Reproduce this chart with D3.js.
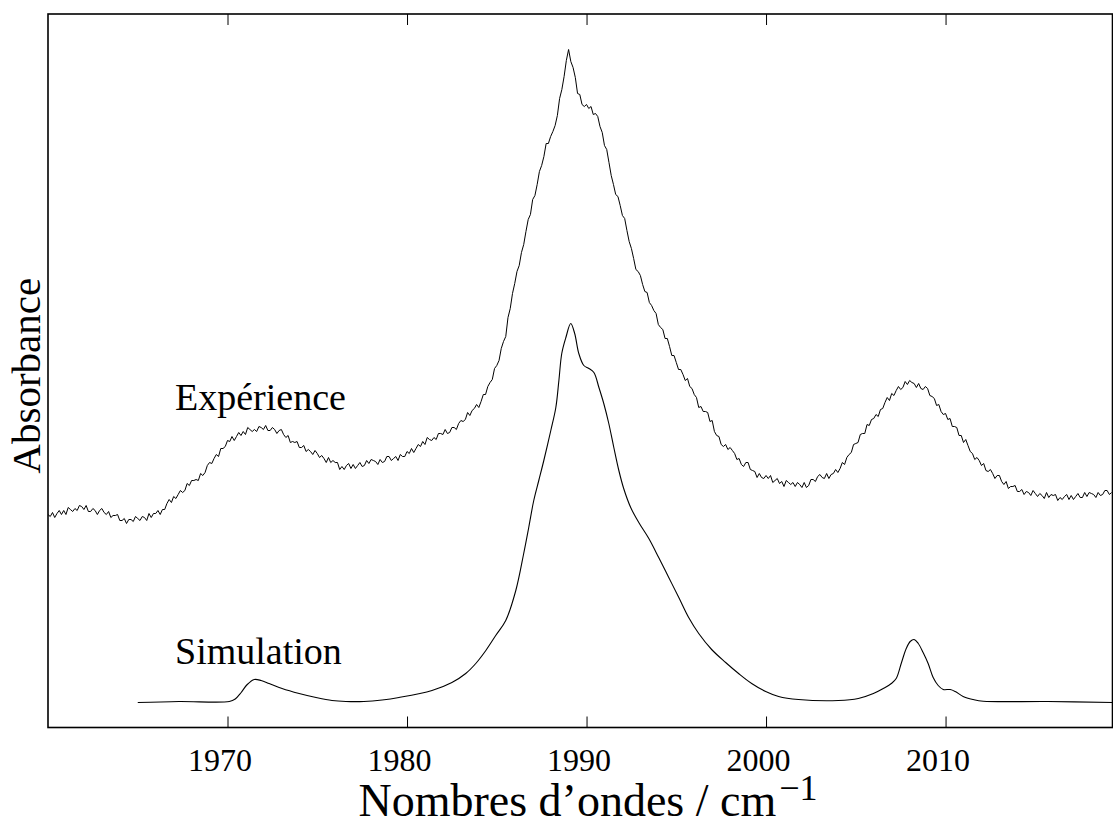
<!DOCTYPE html>
<html lang="fr">
<head>
<meta charset="utf-8">
<title>Spectre IR : expérience et simulation</title>
<script src="https://cdn.jsdelivr.net/npm/d3@7/dist/d3.min.js"></script>
<style>
  html, body { margin: 0; padding: 0; background: #fff; }
  svg { display: block; }
  text { font-family: "Liberation Serif", "Times New Roman", Times, serif; fill: #000; }
</style>
</head>
<body>
<svg id="chart" width="1113" height="825"></svg>
<script>
// Measured spectrum: absorbance (arbitrary units, offset upward) sampled every 0.125 cm-1 from 1960 cm-1
const expStart = 1960;
const expStep = 0.125;
const expAbsorbance = [
  213,211,215,210,214,217,213,217, 213,220,218,216,219,217,222,221,
  218,222,216,216,219,217,213,217, 219,215,213,216,210,212,212,213,
  207,207,209,204,208,208,206,211, 209,207,211,210,207,214,210,214,
  214,217,213,218,218,224,228,225, 231,229,233,237,235,237,244,242,
  247,247,248,247,254,252,255,262, 265,264,269,273,271,279,279,281,
  287,286,291,287,291,295,292,296, 293,300,298,296,298,296,301,300,
  298,302,297,297,300,298,294,297, 298,293,290,292,285,286,285,286,
  280,280,282,276,278,276,273,277, 274,270,272,269,265,270,265,267,
  265,265,258,261,258,262,264,259, 263,259,262,265,261,262,267,264,
  268,267,266,263,268,265,266,271, 271,267,269,271,267,273,271,271,
  276,274,279,275,279,283,281,286, 283,290,288,287,290,288,294,294,
  293,298,294,295,300,300,298,304, 307,306,308,315,312,317,319,323,
  320,326,333,333,341,345,348,359, 362,367,379,386,391,410,419,434,
  444,456,462,475,483,496,508,513, 528,532,543,556,562,571,584,584,
  591,596,602,612,629,638,651,667, 678,666,660,650,634,633,623,621,
  623,619,621,613,614,611,601,595, 582,578,565,552,543,533,531,522,
  512,509,497,486,479,469,458,456, 452,443,436,435,425,422,417,414,
  403,400,398,389,389,381,372,372, 365,358,358,353,347,349,341,339,
  333,330,320,321,316,316,315,306, 307,296,292,291,283,281,283,278,
  280,277,274,268,269,263,261,265, 265,258,257,256,250,254,250,249,
  252,249,252,245,247,249,244,246, 241,247,245,243,245,241,245,243,
  240,245,240,242,248,248,246,251, 253,250,249,254,249,253,254,258,
  255,259,265,263,270,273,275,283, 284,285,293,294,294,303,302,308,
  309,313,311,318,319,325,330,327, 334,332,337,341,338,340,346,343,
  347,345,344,340,344,339,338,341, 339,332,331,329,322,323,316,313,
  314,308,309,301,301,300,292,292, 285,288,282,276,274,268,270,267,
  262,264,257,256,258,254,249,252, 252,246,243,246,239,241,241,242,
  236,236,238,233,236,235,232,237, 234,231,234,232,229,235,230,233,
  232,233,227,230,228,231,233,228, 232,228,231,234,230,230,235,231,
  235,234,233,230,235,232,233,237, 237,233,235
];

// Simulated spectrum: wavenumbers (cm-1) and absorbance (same arbitrary units)
const simWavenumber = [
  1965.0,1967.3,1970.1,1970.43,1970.76,1971.1,1971.49,1971.87,1972.32,1973.04,
  1973.99,1974.93,1975.82,1976.6,1977.6,1978.61,1979.55,1981.39,1982.5,1983.27,
  1983.83,1984.39,1984.94,1985.5,1986.06,1986.5,1986.78,1987.06,1987.34,1987.62,
  1988.01,1988.29,1988.46,1988.62,1988.85,1989.12,1989.34,1989.57,1989.85,1990.13,
  1990.41,1990.69,1990.96,1991.24,1991.52,1991.8,1992.07,1992.46,1992.91,1993.47,
  1994.02,1994.58,1995.14,1995.69,1996.25,1996.97,1997.75,1998.47,1999.2,1999.98,
  2000.7,2001.81,2004.03,2005.14,2005.98,2006.53,2006.98,2007.25,2007.53,2007.81,
  2008.03,2008.25,2008.48,2008.75,2009.03,2009.31,2009.59,2009.87,2010.26,2010.54,
  2010.98,2011.54,2012.1,2015.71,2019.3
];
const simAbsorbance = [
  25,26,26,28.5,35,43,48,47,44,39,
  34,30,27,26,26,27.5,30,37,45,54,
  64,77,92,107,137,174,200,227,247,267,
  297,320,347,374,390,404,394,374,362,359,
  355,340,324,304,280,257,239,220,205,189,
  170,150,130,110,94,78,65,54,44,36,
  31,28,27,29,34,39,44,49,64,79,
  86,88,84,75,64,50,42,38,38,36,
  31,28,26.3,26,25
];

// Axis ticks and labels
const xTicks = [1970, 1980, 1990, 2000, 2010];
const xTitle = "Nombres d\u2019ondes / cm";
const xTitleExponent = "\u22121";
const yTitle = "Absorbance";
const seriesLabels = ["Exp\u00e9rience", "Simulation"];

const svg = d3.select("#chart");
const frame = { left: 48, right: 1112.5, top: 14, bottom: 727.5 };

const x = d3.scaleLinear().domain([1960, 2019.3]).range([frame.left, frame.right]);
const y = d3.scaleLinear().domain([0, 713.5]).range([frame.bottom, frame.top]);

svg.append("defs").append("clipPath").attr("id", "plot-clip")
  .append("rect")
  .attr("x", frame.left).attr("y", frame.top)
  .attr("width", frame.right - frame.left).attr("height", frame.bottom - frame.top);

const expData = expAbsorbance.map((v, i) => ({ w: expStart + i * expStep, v }));
const simData = simWavenumber.map((w, i) => ({ w, v: simAbsorbance[i] }));

const plot = svg.append("g").attr("clip-path", "url(#plot-clip)");

plot.append("path")
  .datum(expData)
  .attr("fill", "none")
  .attr("stroke", "#000")
  .attr("stroke-width", 1)
  .attr("stroke-linejoin", "round")
  .attr("d", d3.line().x(d => x(d.w)).y(d => y(d.v)));

plot.append("path")
  .datum(simData)
  .attr("fill", "none")
  .attr("stroke", "#000")
  .attr("stroke-width", 1.1)
  .attr("d", d3.line().curve(d3.curveCatmullRom.alpha(0.5)).x(d => x(d.w)).y(d => y(d.v)));

// Bottom axis: inward ticks with labels below
const xAxisBottom = svg.append("g")
  .attr("transform", `translate(0,${frame.bottom})`)
  .call(d3.axisBottom(x).tickValues(xTicks).tickSize(-11).tickFormat(d3.format("d")));
xAxisBottom.select(".domain").remove();
xAxisBottom.selectAll(".tick line").attr("stroke", "#000").attr("stroke-width", 1);
xAxisBottom.selectAll(".tick text")
  .attr("x", -8).attr("y", 43.5).attr("dy", 0)
  .style("font-family", "'Liberation Serif', 'Times New Roman', serif")
  .style("font-size", "32px").attr("fill", "#000");

// Top axis: inward ticks only
const xAxisTop = svg.append("g")
  .attr("transform", `translate(0,${frame.top})`)
  .call(d3.axisTop(x).tickValues(xTicks).tickSize(-11).tickFormat(""));
xAxisTop.select(".domain").remove();
xAxisTop.selectAll(".tick line").attr("stroke", "#000").attr("stroke-width", 1);

// Frame
svg.append("rect")
  .attr("x", frame.left).attr("y", frame.top)
  .attr("width", frame.right - frame.left).attr("height", frame.bottom - frame.top)
  .attr("fill", "none").attr("stroke", "#000").attr("stroke-width", 1.6);

// Axis titles
const xt = svg.append("text")
  .attr("x", 588)
  .attr("y", 816)
  .attr("text-anchor", "middle")
  .style("font-size", "46px");
xt.append("tspan").text(xTitle);
xt.append("tspan").attr("dx", 3).attr("dy", -16).style("font-size", "36px").text(xTitleExponent);

svg.append("text")
  .attr("transform", `translate(40,${(frame.top + frame.bottom) / 2 + 5}) rotate(-90)`)
  .attr("text-anchor", "middle")
  .style("font-size", "41px")
  .text(yTitle);

// Series labels
svg.append("text").attr("x", 175).attr("y", 410).style("font-size", "38px").text(seriesLabels[0]);
svg.append("text").attr("x", 175).attr("y", 664).style("font-size", "38px").text(seriesLabels[1]);
</script>
</body>
</html>
